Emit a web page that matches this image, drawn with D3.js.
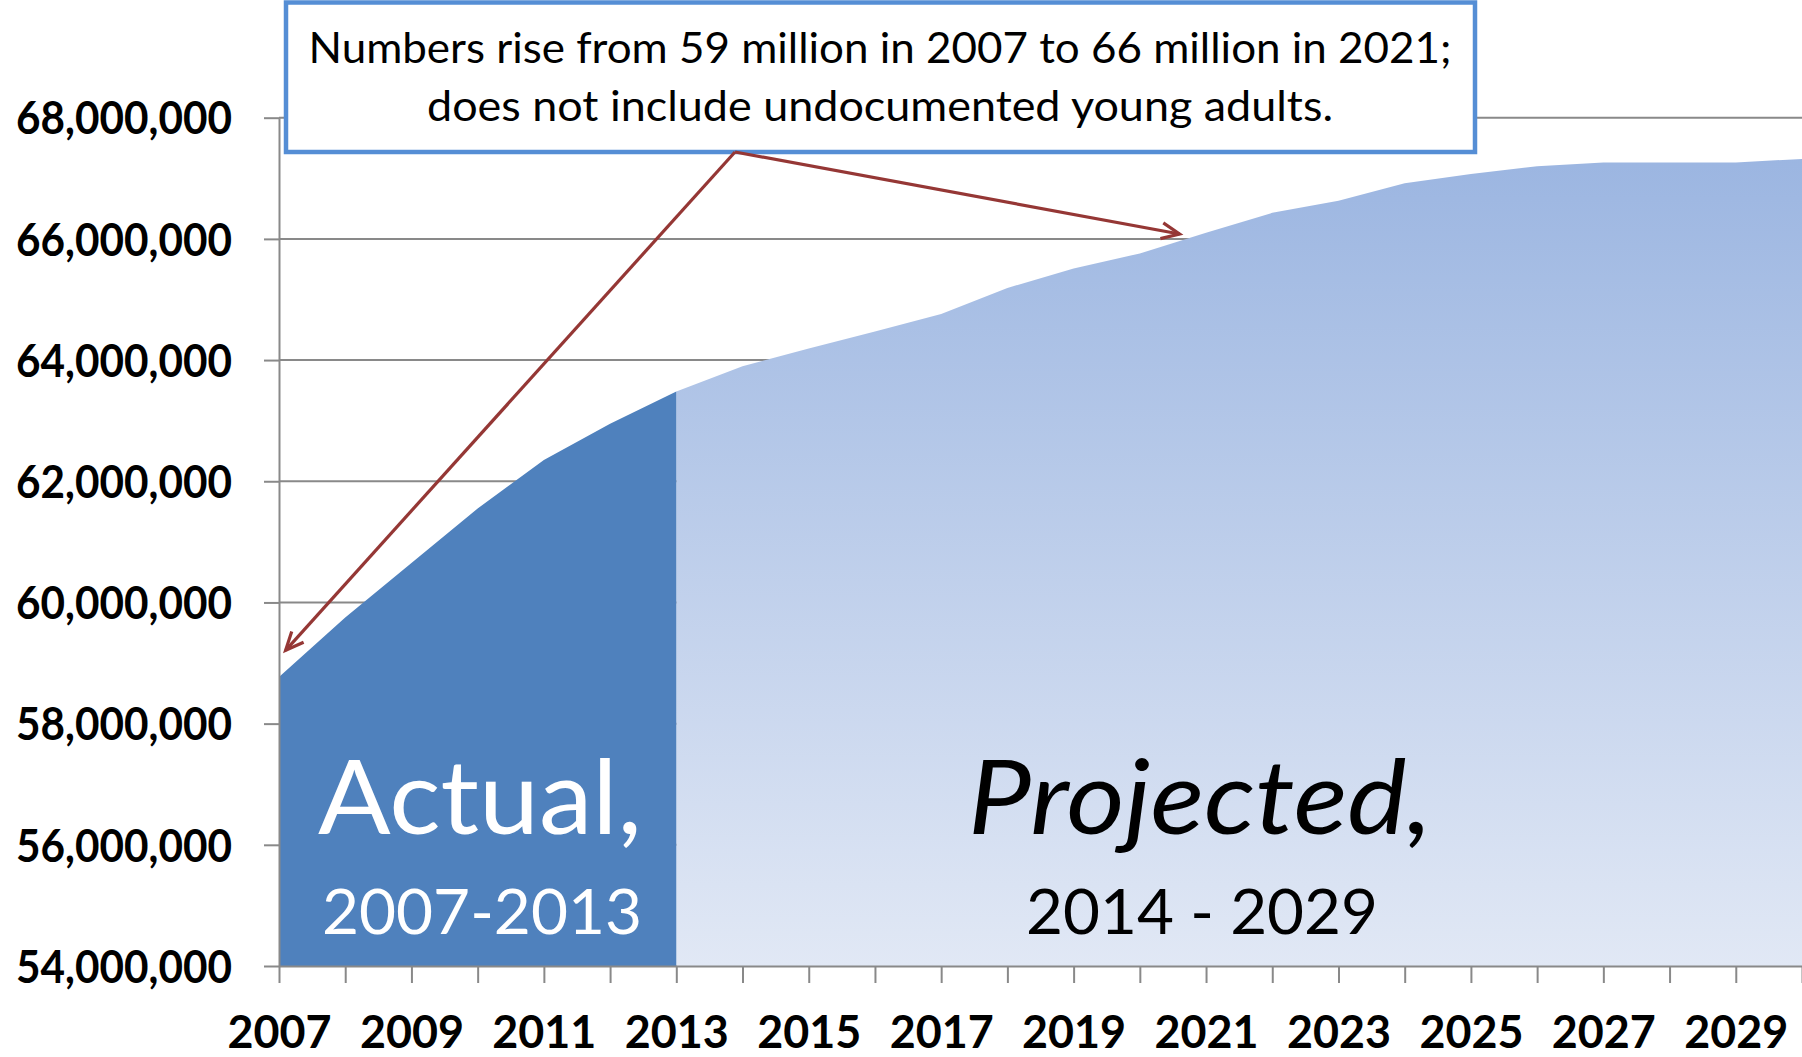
<!DOCTYPE html>
<html>
<head>
<meta charset="utf-8">
<script src="https://cdn.jsdelivr.net/npm/d3@7"></script>
<style>
  body { margin: 0; background: #fff; }
  svg { display: block; font-family: Lato, 'Open Sans', sans-serif; }
</style>
</head>
<body>
<div id="chart"></div>
<script>
// Data: young adult population, actual and projected
const actualYears = [2007, 2008, 2009, 2010, 2011, 2012, 2013]
const actualValues = [58770000, 59750000, 60650000, 61550000, 62350000, 62950000, 63480000]

const projectedYears = [2013, 2014, 2015, 2016, 2017, 2018, 2019, 2020, 2021, 2022,
  2023, 2024, 2025, 2026, 2027, 2028, 2029, 2030]
const projectedValues = [63480000, 63900000, 64190000, 64470000, 64760000, 65190000,
  65510000, 65760000, 66100000, 66430000, 66630000, 66920000, 67070000, 67200000,
  67260000, 67260000, 67260000, 67320000]

const yTicks = [54000000, 56000000, 58000000, 60000000, 62000000, 64000000, 66000000, 68000000]
const xTickYears = [2007, 2008, 2009, 2010, 2011, 2012, 2013, 2014, 2015, 2016, 2017, 2018,
  2019, 2020, 2021, 2022, 2023, 2024, 2025, 2026, 2027, 2028, 2029, 2030]

const noteLines = ['Numbers rise from 59 million in 2007 to 66 million in 2021;',
  'does not include undocumented young adults.']

// Canvas
const width = 1802,
      height = 1057,
      plotLeft = 279,
      plotTop = 117.7,
      plotBottom = 966

const svg = d3.select('#chart')
  .append('svg')
  .attr('width', width)
  .attr('height', height)

const x = d3.scaleLinear()
  .domain([2007, 2030])
  .range([plotLeft, width])

const y = d3.scaleLinear()
  .domain([54000000, 68000000])
  .range([plotBottom, plotTop])

const defs = svg.append('defs')

const grad = defs.append('linearGradient')
  .attr('id', 'projFill')
  .attr('gradientUnits', 'userSpaceOnUse')
  .attr('x1', 0).attr('x2', 0)
  .attr('y1', y(68000000)).attr('y2', y(54000000))
grad.append('stop').attr('offset', 0).attr('stop-color', '#98b3e0')
grad.append('stop').attr('offset', 1).attr('stop-color', '#e1e8f5')

defs.append('marker')
  .attr('id', 'head')
  .attr('markerUnits', 'userSpaceOnUse')
  .attr('viewBox', '-22 -12 26 24')
  .attr('refX', 0).attr('refY', 0)
  .attr('markerWidth', 26).attr('markerHeight', 24)
  .attr('orient', 'auto')
  .append('path')
  .attr('d', 'M-18,-8 L0,0 L-18,8')
  .attr('fill', 'none')
  .attr('stroke', '#953735')
  .attr('stroke-width', 3.2)

// gridlines
svg.append('g')
  .selectAll('line')
  .data(yTicks)
  .enter()
  .append('line')
  .attr('x1', plotLeft).attr('x2', width)
  .attr('y1', d => y(d)).attr('y2', d => y(d))
  .attr('stroke', '#898989')
  .attr('stroke-width', 2)

// areas
const area = d3.area()
  .x(d => x(d[0]))
  .y0(y(54000000))
  .y1(d => y(d[1]))

svg.append('path')
  .datum(projectedYears.map((yr, i) => [yr, projectedValues[i]]))
  .attr('d', area)
  .attr('fill', 'url(#projFill)')

svg.append('path')
  .datum(actualYears.map((yr, i) => [yr, actualValues[i]]))
  .attr('d', area)
  .attr('fill', '#4f81bd')

// axes
const yAxis = svg.append('g')
  .attr('transform', `translate(${plotLeft},0)`)
  .call(d3.axisLeft(y)
    .tickValues(yTicks)
    .tickFormat(d3.format(','))
    .tickSize(15)
    .tickSizeOuter(0)
    .tickPadding(32))
  .attr('font-family', 'Lato, sans-serif')

yAxis.selectAll('text')
  .attr('dy', '0.36em')
  .attr('font-size', 45)
  .attr('font-weight', 'bold')
  .attr('fill', '#000')
  .attr('textLength', 216)
  .attr('lengthAdjust', 'spacingAndGlyphs')

const xAxis = svg.append('g')
  .attr('transform', `translate(0,${plotBottom})`)
  .call(d3.axisBottom(x)
    .tickValues(xTickYears)
    .tickFormat(d => (d % 2 === 1 ? String(d) : ''))
    .tickSize(17)
    .tickSizeOuter(0))
  .attr('font-family', 'Lato, sans-serif')

xAxis.selectAll('text')
  .attr('y', 82)
  .attr('dy', 0)
  .attr('font-size', 46)
  .attr('font-weight', 'bold')
  .attr('fill', '#000')
  .filter(d => d % 2 === 1)
  .attr('textLength', 104)
  .attr('lengthAdjust', 'spacingAndGlyphs')

svg.selectAll('.domain, .tick line')
  .attr('stroke', '#898989')
  .attr('stroke-width', 2)

// labels inside the areas
const bigText = (txt, cx, by, size, len, color, italic) => {
  svg.append('text')
    .attr('x', cx).attr('y', by)
    .attr('text-anchor', 'middle')
    .attr('font-size', size)
    .attr('font-style', italic ? 'italic' : 'normal')
    .attr('fill', color)
    .attr('textLength', len)
    .attr('lengthAdjust', 'spacingAndGlyphs')
    .text(txt)
}
bigText('Actual,', 480, 834, 103, 324, '#fff', false)
bigText('2007-2013', 482, 934, 61, 320, '#fff', false)
bigText('Projected,', 1200, 834, 103, 464, '#000', true)
bigText('2014 - 2029', 1202, 934, 61, 352, '#000', false)

// note box
svg.append('rect')
  .attr('x', 286).attr('y', 2.5)
  .attr('width', 1189).attr('height', 149.5)
  .attr('fill', '#fff')
  .attr('stroke', '#558ed5')
  .attr('stroke-width', 4.5)

svg.append('text')
  .attr('x', 880).attr('y', 63)
  .attr('text-anchor', 'middle')
  .attr('font-size', 42)
  .attr('textLength', 1143)
  .attr('lengthAdjust', 'spacingAndGlyphs')
  .text(noteLines[0])

svg.append('text')
  .attr('x', 880).attr('y', 121)
  .attr('text-anchor', 'middle')
  .attr('font-size', 42)
  .attr('textLength', 906)
  .attr('lengthAdjust', 'spacingAndGlyphs')
  .text(noteLines[1])

// arrows from the box to the curve
const arrowStart = [735, 152]
const arrowTips = [[2007.1, 59210000], [2020.6, 66080000]]
arrowTips.forEach(t => {
  svg.append('line')
    .attr('x1', arrowStart[0]).attr('y1', arrowStart[1])
    .attr('x2', x(t[0])).attr('y2', y(t[1]))
    .attr('stroke', '#953735')
    .attr('stroke-width', 3.2)
    .attr('marker-end', 'url(#head)')
})
</script>
</body>
</html>
